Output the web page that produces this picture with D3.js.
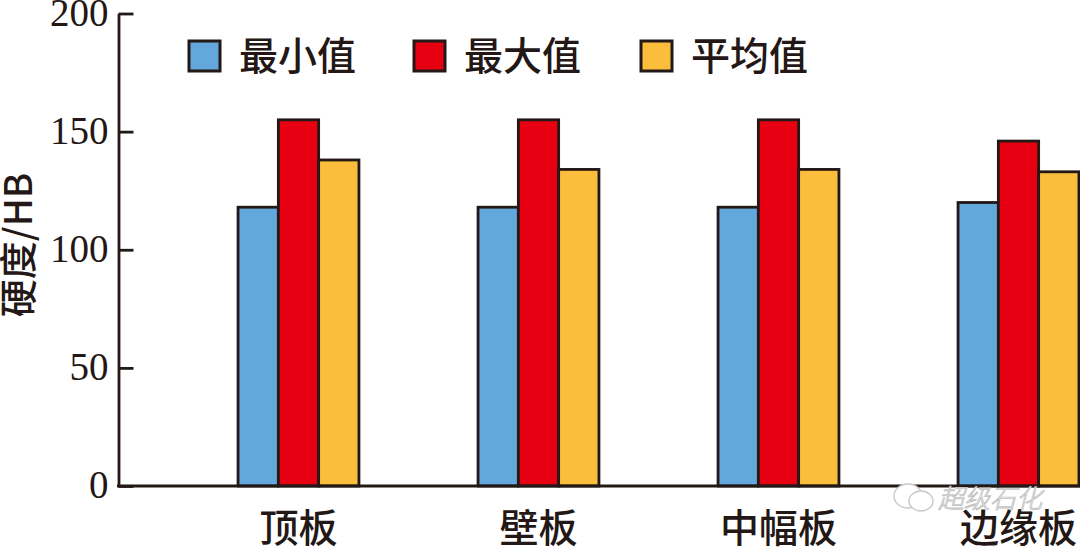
<!DOCTYPE html>
<html><head><meta charset="utf-8">
<script src="https://cdn.jsdelivr.net/npm/d3@7/dist/d3.min.js"></script>
<style>html,body{margin:0;padding:0;background:#fff}svg{display:block}text{font-family:"Liberation Serif",serif;fill:#231815}.cjk{font-family:"Noto Sans CJK SC",sans-serif;font-weight:500}</style>
</head><body><svg id="c" width="1080" height="547"></svg>
<script>
const categories=["顶板","壁板","中幅板","边缘板"];
const seriesNames=["最小值","最大值","平均值"];
const minValues=[118,118,118,120];
const maxValues=[155,155,155,146];
const avgValues=[138,134,134,133];
const yTicks=[0,50,100,150,200];
const colors=["#62a8dc","#e60012","#fabe3c"];
const ink="#231815";
const sw=2.8;
const svg=d3.select("#c");
const y=d3.scaleLinear().domain([0,200]).range([486,13.5]);
const x=d3.scalePoint().domain(categories).range([298.5,1018.5]);
const bw=40.3;
const g=svg.append("g");
[minValues,maxValues,avgValues].forEach((vals,s)=>{
 g.selectAll(null).data(vals).join("rect")
  .attr("x",(d,i)=>x(categories[i])+(s-1.5)*bw).attr("y",d=>y(d))
  .attr("width",bw).attr("height",d=>y(0)-y(d))
  .attr("fill",colors[s]).attr("stroke",ink).attr("stroke-width",sw);
});
const ax=svg.append("g").attr("transform","translate(118.5,0)").call(d3.axisLeft(y).tickValues(yTicks).tickSize(-15).tickPadding(10).tickSizeOuter(0));
ax.selectAll("line").attr("stroke",ink).attr("stroke-width",sw);
ax.select(".domain").attr("stroke",ink).attr("stroke-width",sw);
ax.selectAll("text").style("font-size","39px").style("font-family","Liberation Serif").attr("fill",ink).attr("x",-10).attr("dy","0.3em");
svg.append("line").attr("x1",117).attr("x2",1080).attr("y1",y(0)).attr("y2",y(0)).attr("stroke",ink).attr("stroke-width",sw);
categories.forEach((c,i)=>svg.append("text").attr("class","cjk").attr("x",x(c)).attr("y",542).attr("text-anchor","middle").style("font-size","39px").text(c));
svg.append("text").attr("class","cjk").attr("transform","translate(32,245) rotate(-90)").attr("text-anchor","middle").style("font-size","38px").text("硬度/HB");
const lx=[189,414,641];
seriesNames.forEach((n,i)=>{
 svg.append("rect").attr("x",lx[i]).attr("y",41).attr("width",31).attr("height",30).attr("fill",colors[i]).attr("stroke",ink).attr("stroke-width",3);
 svg.append("text").attr("class","cjk").attr("x",lx[i]+50).attr("y",70).style("font-size","39px").text(n);
});
const wm=svg.append("g").attr("fill","#fff").attr("stroke","#c9c9c9").attr("stroke-width",1.4);
wm.append("ellipse").attr("cx",908).attr("cy",496).attr("rx",14).attr("ry",12);
wm.append("ellipse").attr("cx",921).attr("cy",501).attr("rx",12).attr("ry",10);
svg.append("text").attr("class","cjk").attr("x",938).attr("y",508).style("font-size","26px").style("font-style","italic").style("font-weight","300").style("fill","#fff").style("stroke","#c4c4c4").style("stroke-width","0.9").text("超级石化");
</script></body></html>
